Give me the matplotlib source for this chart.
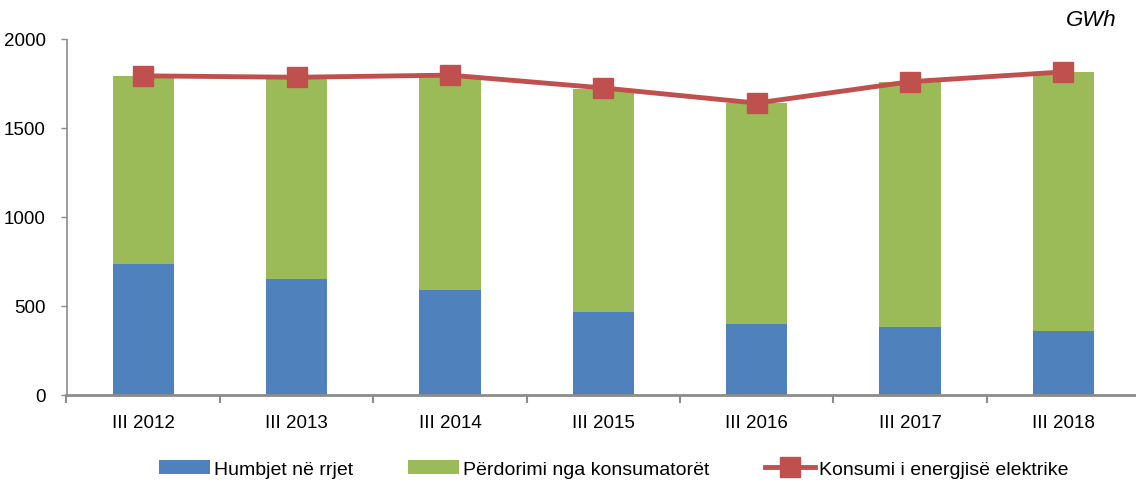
#!/usr/bin/env python3
# -*- coding: utf-8 -*-
import matplotlib.pyplot as plt
import numpy as np

# data (GWh)
periods = ["III 2012", "III 2013", "III 2014", "III 2015", "III 2016", "III 2017", "III 2018"]
losses = [736, 652, 590, 466, 399, 382, 360]
consumer_use = [1056, 1129, 1202, 1253, 1241, 1376, 1455]
total_consumption = [1793, 1785, 1797, 1725, 1640, 1760, 1815]

BLUE = "#4F81BD"
GREEN = "#9BBB59"
RED = "#C0504D"
GREY = "#8C8C8C"

plt.rcParams["font.family"] = ["Liberation Sans Narrow", "Liberation Sans", "DejaVu Sans"]

fig = plt.figure(figsize=(11.36, 4.89), dpi=100)
ax = fig.add_axes([66.5 / 1136, 1 - 396 / 489, (1140 - 66.5) / 1136, (396 - 40) / 489])

x = np.arange(len(periods))
w = 0.4
ax.bar(x, losses, w, color=BLUE, label="Humbjet në rrjet", zorder=2)
ax.bar(x, consumer_use, w, bottom=losses, color=GREEN, label="Përdorimi nga konsumatorët", zorder=2)
ax.plot(x, total_consumption, color=RED, lw=3.5, marker="s", markersize=14,
        label="Konsumi i energjisë elektrike", zorder=3)

ax.set_xlim(-0.5, len(periods) - 0.5)
ax.set_ylim(0, 2000)
ax.set_yticks([0, 500, 1000, 1500, 2000])
ax.set_xticks(x)
ax.set_xticklabels(periods)
ax.set_xticks(np.arange(len(periods) + 1) - 0.5, minor=True)
ax.tick_params(axis="x", which="major", length=0, labelsize=13.5, pad=14)
ax.tick_params(axis="x", which="minor", length=6, width=1.5, color=GREY, direction="out")
ax.tick_params(axis="y", length=4, width=1, color=GREY, labelsize=13.5, pad=11)

for s in ["top", "right"]:
    ax.spines[s].set_visible(False)
ax.spines["left"].set_color(GREY)
ax.spines["left"].set_linestyle((0, (1, 1)))
ax.spines["left"].set_linewidth(1.2)
ax.spines["bottom"].set_color(GREY)
ax.spines["bottom"].set_linewidth(2)

fig.text(1091 / 1136, 1 - 20 / 489, "GWh", ha="center", va="center", fontsize=16,
         style="italic", family=["Liberation Sans", "DejaVu Sans"])

handles, labels = ax.get_legend_handles_labels()
order = [1, 2, 0]
fig.legend([handles[i] for i in order], [labels[i] for i in order], loc="center",
           bbox_to_anchor=(614 / 1136, 1 - 470 / 489), ncol=3, frameon=False, fontsize=14,
           handlelength=2.6, handleheight=0.75, handletextpad=0.2, columnspacing=2.85)

fig.savefig("out.png", dpi=100)
